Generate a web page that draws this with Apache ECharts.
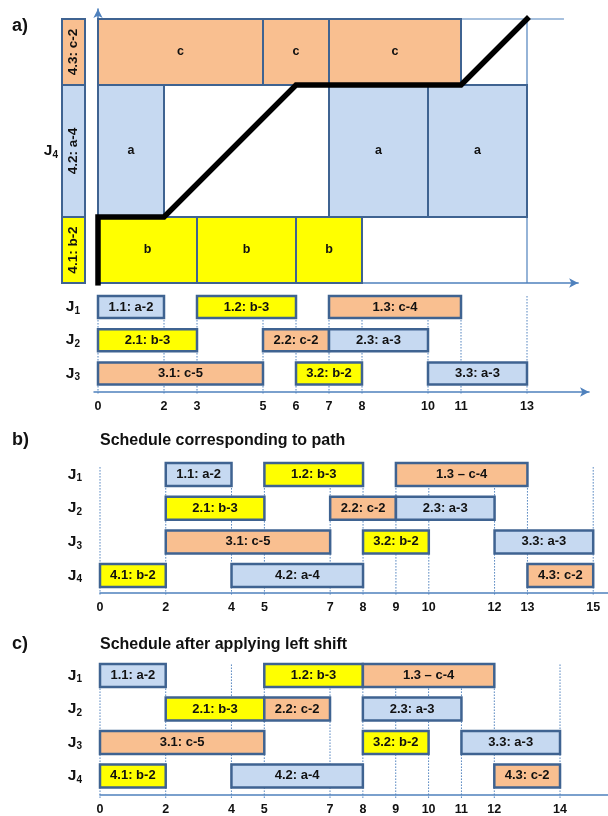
<!DOCTYPE html>
<html><head><meta charset="utf-8">
<script src="https://cdn.jsdelivr.net/npm/echarts@6/dist/echarts.min.js"></script>
<style>html,body{margin:0;padding:0;background:#fff}#c{width:608px;height:816px}</style>
</head><body><div id="c"></div>
<script>
// ---------------- data ----------------
const opNames     = ['1.1','1.2','1.3','2.1','2.2','2.3','3.1','3.2','3.3','4.1','4.2','4.3'];
const opJobs      = [0,0,0,1,1,1,2,2,2,3,3,3];
const opMachines  = ['a','b','c','b','c','a','c','b','a','b','a','c'];
const opDurations = [2,3,4,3,2,3,5,2,3,2,4,2];
const startsA = [0,3,7, 0,5,7, 0,6,10];            // J1..J3 in panel a)
const startsB = [2,5,9, 2,7,9, 2,8,12, 0,4,13];    // panel b)
const startsC = [0,5,8, 2,5,8, 0,8,11, 0,4,12];    // panel c)
const ticksA = [0,2,3,5,6,7,8,10,11,13];
const ticksB = [0,2,4,5,7,8,9,10,12,13,15];
const ticksC = [0,2,4,5,7,8,9,10,11,12,14];
const pathPoints = [[0,0],[0,2],[2,2],[6,6],[11,6],[13,8]];
const dashOps = ['1.3'];
const panelLetters = ['a)','b)','c)'];
const scheduleTitles = ['Schedule corresponding to path','Schedule after applying left shift'];

// ---------------- style ----------------
const FONT = '"Liberation Sans", Arial, sans-serif';
const FILL = {a:'#C6D9F1', b:'#FFFF00', c:'#F9BF90'};
const BORDER = '#3F6391';
const AXIS = '#4F81BD';
const TXT = '#111';

// ---------------- derived ----------------
const j4Ops = opJobs.map((j,i)=>j===3?i:-1).filter(i=>i>=0);
const machineRange = {}; let acc = 0;
j4Ops.forEach(i => { machineRange[opMachines[i]] = [acc, acc + opDurations[i]]; acc += opDurations[i]; });
const j4Total = acc;
const makespanA = Math.max(...startsA.map((s,i)=>s+opDurations[i]));
const guideEnd = 14.12;

function opLabel(i, dash) {
  const sep = (dash && dashOps.includes(opNames[i])) ? ' \u2013 ' : ': ';
  return opNames[i] + sep + opMachines[i] + '-' + opDurations[i];
}
function ganttData(starts){ return starts.map((s,i)=>[s, s+opDurations[i], opJobs[i]]); }

const topBlocks = startsA.map((s,i)=>[s, s+opDurations[i], machineRange[opMachines[i]][0], machineRange[opMachines[i]][1]]);
const topColors = startsA.map((s,i)=>FILL[opMachines[i]]);
const topLabels = startsA.map((s,i)=>opMachines[i]);
const j4Blocks = j4Ops.map(i=>[0,1,machineRange[opMachines[i]][0], machineRange[opMachines[i]][1]]);
const j4Colors = j4Ops.map(i=>FILL[opMachines[i]]);
const j4Labels = j4Ops.map(i=>opLabel(i,false));

// ---------------- layout ----------------
function gGrid(x0, ux, xmin, xmax, yc0, uy, ymin, ymax){
  return {left: x0 + xmin*ux, width:(xmax-xmin)*ux, top: yc0 + ymin*uy, height:(ymax-ymin)*uy};
}
const G_TOP = {left:98, width:14.55*33, top:283-8.3*33, height:8.3*33};
const G_J4  = {left:62, width:23, top:283-8.3*33, height:8.3*33};
const G_A = gGrid(98, 33, -0.12, 14.88, 307, 33.2, -0.6, 2.56);
const G_B = gGrid(100, 32.9, 0, 15.45, 474.5, 33.7, -0.6, 3.52);
const G_C = gGrid(100, 32.86, 0, 15.46, 675.5, 33.5, -0.6, 3.57);

const jRich = {
  j:{fontSize:15.5, fontWeight:'bold', fontFamily:FONT, color:TXT},
  s:{fontSize:10, fontWeight:'bold', fontFamily:FONT, color:TXT, padding:[8,0,0,0]}
};
const noSplit = {show:false};

function rectRender(colors, labels, lw, rot, fs){
  return function(params, api){
    const i = params.dataIndex;
    const p0 = api.coord([api.value(0), api.value(3)]);
    const p1 = api.coord([api.value(1), api.value(2)]);
    return {
      type:'rect',
      shape:{x:p0[0], y:p0[1], width:p1[0]-p0[0], height:p1[1]-p0[1]},
      style:{fill:colors[i], stroke:BORDER, lineWidth:lw},
      textContent:{style:{text:labels[i], fontSize:fs, fontWeight:'bold', fontFamily:FONT, fill:TXT}},
      textConfig:{position:'inside', rotation:rot}
    };
  };
}
function barRender(colors, labels, h){
  return function(params, api){
    const i = params.dataIndex;
    const s = api.coord([api.value(0), api.value(2)]);
    const e = api.coord([api.value(1), api.value(2)]);
    return {
      type:'rect',
      shape:{x:s[0], y:s[1]-h/2, width:e[0]-s[0], height:h},
      style:{fill:colors[i], stroke:BORDER, lineWidth:2.5},
      textContent:{style:{text:labels[i], fontSize:13, fontWeight:'bold', fontFamily:FONT, fill:TXT}},
      textConfig:{position:'inside'}
    };
  };
}
function vlineRender(yTop, yBot){
  return function(params, api){
    const a = api.coord([api.value(0), yTop]);
    const b = api.coord([api.value(0), yBot]);
    return {type:'line', shape:{x1:a[0], y1:a[1], x2:b[0], y2:b[1]+3},
      style:{stroke:AXIS, lineWidth:1, lineDash:[1.5,1.5]}};
  };
}
function guideRender(params, api){
  const a = api.coord([api.value(0), api.value(1)]);
  const b = api.coord([api.value(2), api.value(3)]);
  return {type:'line', shape:{x1:a[0], y1:a[1], x2:b[0], y2:b[1]}, style:{stroke:AXIS, lineWidth:1.2}};
}

function ganttX(grid, min, max, ticks, arrow){
  return {gridIndex:grid, type:'value', min:min, max:max,
    axisLine:{show:true, onZero:false, symbol: arrow?['none','arrow']:['none','none'], symbolSize:[7,9], lineStyle:{color:AXIS, width:1.6}},
    axisTick:{show:false}, splitLine:noSplit,
    axisLabel:{customValues:ticks, fontSize:12.5, fontWeight:'bold', fontFamily:FONT, color:TXT, margin:8}};
}
function ganttY(grid, max, nRows, margin){
  const rows = []; for (let r=0;r<nRows;r++) rows.push(r);
  return {gridIndex:grid, type:'value', inverse:true, min:-0.6, max:max,
    axisLine:{show:false}, axisTick:{show:false}, splitLine:noSplit,
    axisLabel:{customValues:rows, margin:margin, formatter:v=>'{j|J}{s|'+(v+1)+'}', rich:jRich}};
}

const labelsA = startsA.map((s,i)=>opLabel(i,false));
const labelsB = startsB.map((s,i)=>opLabel(i,true));
const labelsC = startsC.map((s,i)=>opLabel(i,true));
const colA = startsA.map((s,i)=>FILL[opMachines[i]]);
const colB = startsB.map((s,i)=>FILL[opMachines[i]]);
const colC = startsC.map((s,i)=>FILL[opMachines[i]]);

const titleStyle = {fontFamily:FONT, fontWeight:'bold', color:TXT};
const option = {
  animation:false,
  backgroundColor:'#fff',
  title:[
    {text:panelLetters[0], left:12, top:17, padding:0, textStyle:Object.assign({fontSize:18}, titleStyle)},
    {text:panelLetters[1], left:12, top:431, padding:0, textStyle:Object.assign({fontSize:18}, titleStyle)},
    {text:panelLetters[2], left:12, top:635, padding:0, textStyle:Object.assign({fontSize:18}, titleStyle)},
    {text:scheduleTitles[0], left:100, top:433, padding:0, textStyle:Object.assign({fontSize:16}, titleStyle)},
    {text:scheduleTitles[1], left:100, top:637, padding:0, textStyle:Object.assign({fontSize:16}, titleStyle)}
  ],
  grid:[G_TOP, G_J4, G_A, G_B, G_C],
  xAxis:[
    {gridIndex:0, type:'value', min:0, max:14.55,
      axisLine:{show:true, onZero:false, symbol:['none','arrow'], symbolSize:[7,9], lineStyle:{color:AXIS, width:1.6}},
      axisTick:{show:false}, axisLabel:{show:false}, splitLine:noSplit},
    {gridIndex:1, type:'value', min:0, max:1, show:false},
    ganttX(2, -0.12, 14.88, ticksA, true),
    ganttX(3, 0, 15.45, ticksB, false),
    ganttX(4, 0, 15.46, ticksC, false)
  ],
  yAxis:[
    {gridIndex:0, type:'value', min:0, max:8.3,
      axisLine:{show:true, onZero:false, symbol:['none','arrow'], symbolSize:[7,9], lineStyle:{color:AXIS, width:1.6}},
      axisTick:{show:false}, axisLabel:{show:false}, splitLine:noSplit},
    {gridIndex:1, type:'value', min:0, max:8.3, axisLine:{show:false}, axisTick:{show:false}, splitLine:noSplit,
      axisLabel:{customValues:[j4Total/2], margin:4, formatter:()=>'{j|J}{s|4}', rich:jRich}},
    ganttY(2, 2.56, 3, 14),
    ganttY(3, 3.52, 4, 18),
    ganttY(4, 3.57, 4, 18)
  ],
  series:[
    {type:'custom', xAxisIndex:0, yAxisIndex:0, renderItem:guideRender,
      data:[[0,j4Total,guideEnd,j4Total],[makespanA,0,makespanA,j4Total]], z:1},
    {type:'custom', xAxisIndex:0, yAxisIndex:0, renderItem:rectRender(topColors, topLabels, 2, 0, 12.5), data:topBlocks, z:2},
    {type:'line', xAxisIndex:0, yAxisIndex:0, data:pathPoints, showSymbol:false, symbol:'none',
      lineStyle:{color:'#000', width:5.5, join:'miter', cap:'square'}, z:5},
    {type:'custom', xAxisIndex:1, yAxisIndex:1, renderItem:rectRender(j4Colors, j4Labels, 2, Math.PI/2, 13.5), data:j4Blocks, z:2},
    {type:'custom', xAxisIndex:2, yAxisIndex:2, renderItem:vlineRender(-0.33, 2.56), data:ticksA.map(v=>[v]), z:1},
    {type:'custom', xAxisIndex:3, yAxisIndex:3, renderItem:vlineRender(-0.22, 3.52), data:ticksB.map(v=>[v]), z:1},
    {type:'custom', xAxisIndex:4, yAxisIndex:4, renderItem:vlineRender(-0.33, 3.57), data:ticksC.map(v=>[v]), z:1},
    {type:'custom', xAxisIndex:2, yAxisIndex:2, renderItem:barRender(colA, labelsA, 22), data:ganttData(startsA), z:3},
    {type:'custom', xAxisIndex:3, yAxisIndex:3, renderItem:barRender(colB, labelsB, 23), data:ganttData(startsB), z:3},
    {type:'custom', xAxisIndex:4, yAxisIndex:4, renderItem:barRender(colC, labelsC, 23), data:ganttData(startsC), z:3}
  ]
};
const chart = echarts.init(document.getElementById('c'), null, {renderer:'canvas'});
chart.setOption(option);
</script>
</body></html>
